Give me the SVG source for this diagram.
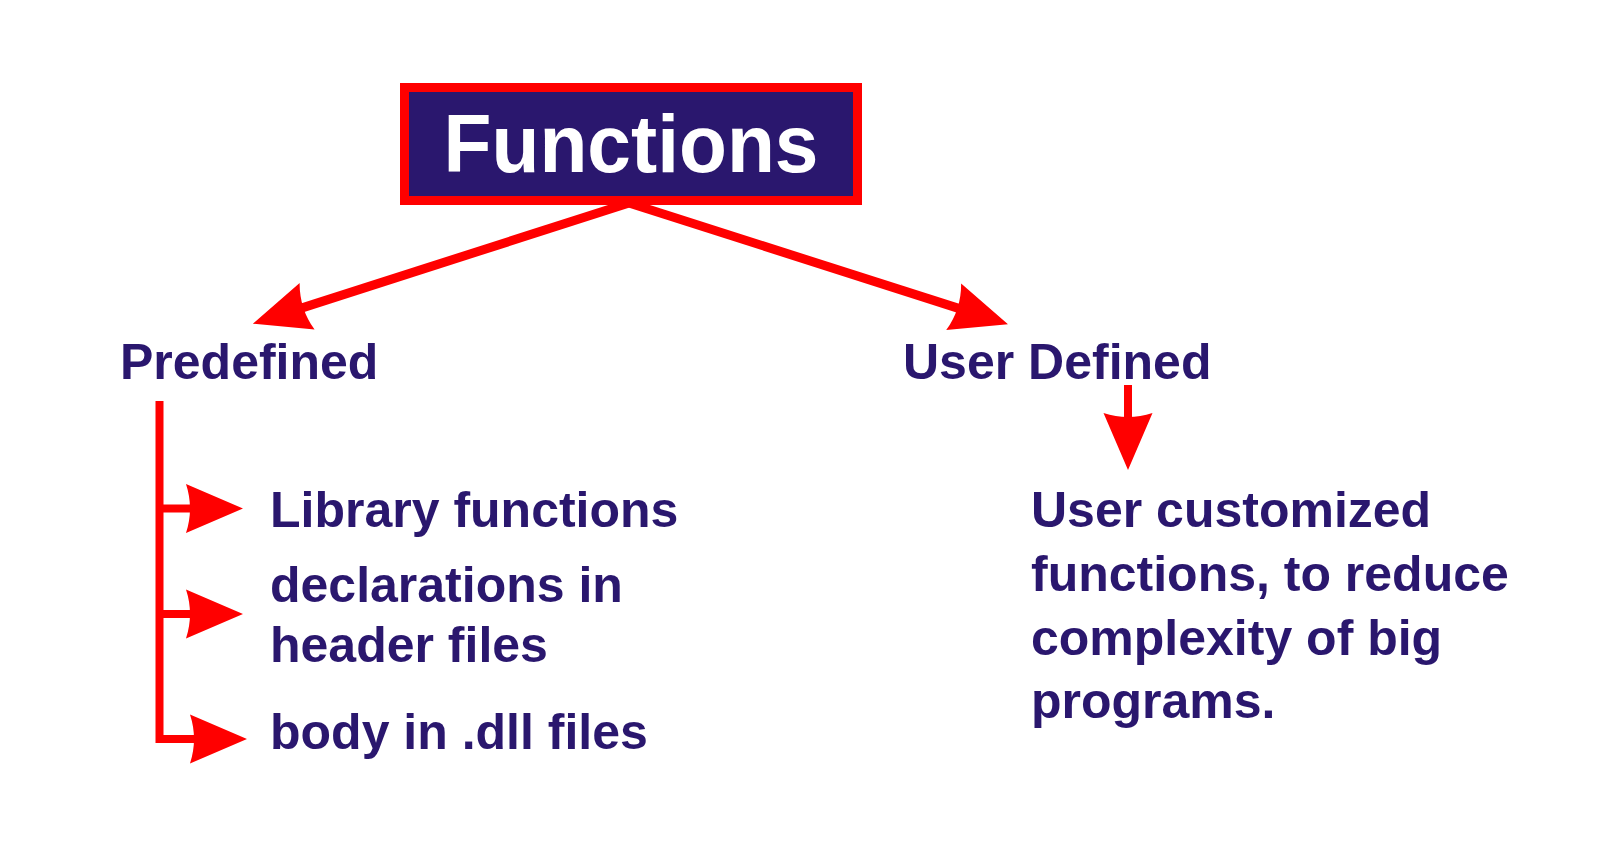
<svg xmlns="http://www.w3.org/2000/svg" width="1600" height="864" viewBox="0 0 1600 864">
  <style>
    .lbl { font-family: "Liberation Sans", Arial, sans-serif; font-weight: bold; font-size: 50px; fill: #2A176E; }
    .title { font-family: "Liberation Sans", Arial, sans-serif; font-weight: bold; font-size: 81px; fill: #FFFFFF; }
    .conn { fill: none; stroke: #FF0000; stroke-width: 8; stroke-linejoin: miter; }
    .diag { stroke-width: 9; }
  </style>
  <defs>
    <marker id="head" markerUnits="userSpaceOnUse" viewBox="-10 -30 70 60" markerWidth="70" markerHeight="60" refX="0" refY="0" orient="auto" overflow="visible">
      <path d="M-6,-24.5 L51,0 L-6,24.5 Q2,0 -6,-24.5 Z" fill="#FF0000"/>
    </marker>
  </defs>
  <rect width="1600" height="864" fill="#FFFFFF"/>

  <g id="connectors">
    <path class="conn diag" d="M629,203 L301.4,308.1" marker-end="url(#head)"/>
    <path class="conn diag" d="M629,203 L959.4,308.6" marker-end="url(#head)"/>
    <path class="conn" d="M1128,385 V419" marker-end="url(#head)"/>
    <path class="conn" d="M159.5,401 V739 H196" marker-end="url(#head)"/>
    <path class="conn" d="M159.5,508.5 H192" marker-end="url(#head)"/>
    <path class="conn" d="M159.5,614 H192" marker-end="url(#head)"/>
  </g>

  <g id="node-functions">
    <rect x="404.5" y="87.5" width="453" height="113" fill="#2A176E" stroke="#FF0000" stroke-width="9"/>
    <text class="title" x="631" y="172" text-anchor="middle" textLength="375" lengthAdjust="spacingAndGlyphs">Functions</text>
  </g>

  <g id="node-predefined">
    <text class="lbl" x="120" y="379">Predefined</text>
  </g>

  <g id="node-userdefined">
    <text class="lbl" x="903" y="379">User Defined</text>
  </g>

  <g id="node-library">
    <text class="lbl" x="270" y="527">Library functions</text>
  </g>

  <g id="node-declarations">
    <text class="lbl" x="270" y="602">declarations in</text>
    <text class="lbl" x="270" y="662">header files</text>
  </g>

  <g id="node-body">
    <text class="lbl" x="270" y="749">body in .dll files</text>
  </g>

  <g id="node-usercustom">
    <text class="lbl" x="1031" y="527">User customized</text>
    <text class="lbl" x="1031" y="591">functions, to reduce</text>
    <text class="lbl" x="1031" y="655">complexity of big</text>
    <text class="lbl" x="1031" y="718">programs.</text>
  </g>
</svg>
